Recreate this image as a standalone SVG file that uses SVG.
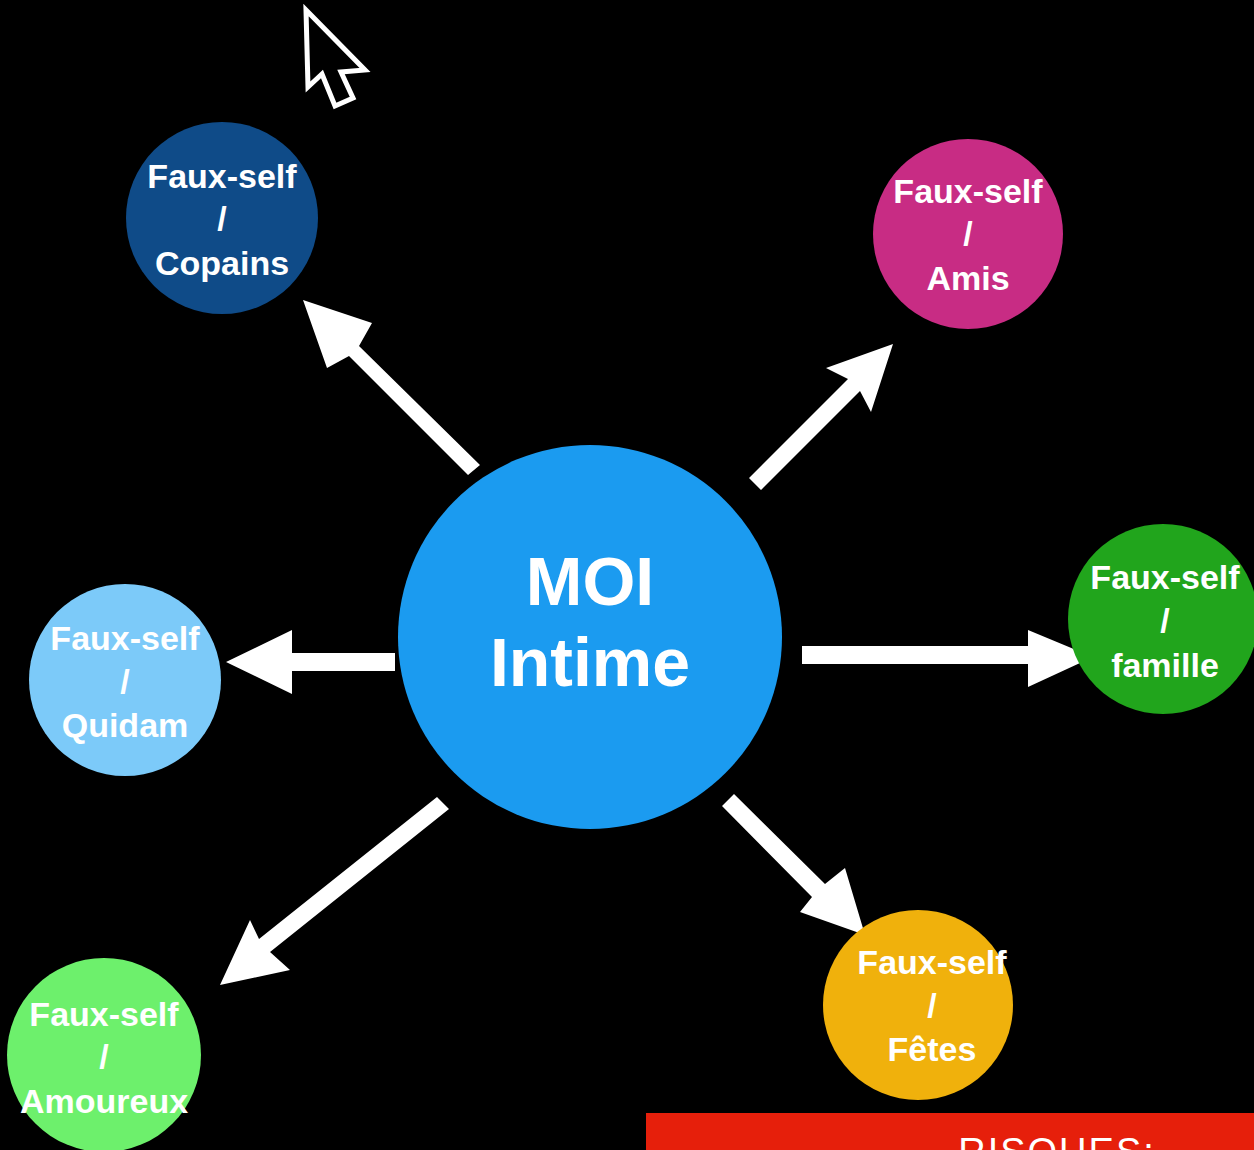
<svg xmlns="http://www.w3.org/2000/svg" width="1254" height="1150" viewBox="0 0 1254 1150">
<style>
.lbl{font-family:"Liberation Sans",Arial,sans-serif;font-weight:bold;font-size:34px;fill:#ffffff;text-anchor:middle}
.big{font-family:"Liberation Sans",Arial,sans-serif;font-weight:bold;font-size:68px;fill:#ffffff;text-anchor:middle}
.arrow{fill:#ffffff}
</style>
<rect x="0" y="0" width="1254" height="1150" fill="#000000"/>
<g id="cursor">
<polygon points="306,10 365,70 341,72 353,98 335,106 322,74 308,87" fill="#000000" stroke="#ffffff" stroke-width="5" stroke-linejoin="miter"/>
</g>
<g id="connectors">
<!-- Copains -->
<polygon class="arrow" points="480,465 468,475 349,356 327,368 303,300 372,323 359,346"/>
<!-- Amis -->
<polygon class="arrow" points="749,478 761,490 860,391 871,412 893,344 826,368 848,379"/>
<!-- famille -->
<polygon class="arrow" points="802,646 1028,646 1028,630 1093,657 1028,687 1028,664 802,664"/>
<!-- Quidam -->
<polygon class="arrow" points="395,653 292,653 292,630 226,662 292,694 292,671 395,671"/>
<!-- Amoureux -->
<polygon class="arrow" points="437,797 449,809 270,952 290,970 220,985 250,920 259,939"/>
<!-- Fêtes -->
<polygon class="arrow" points="734,794 722,806 812,897 800,912 865,935 845,868 825,884"/>
</g>
<g id="node-moi">
<circle cx="590" cy="637" r="192" fill="#1b9bf0"/>
<text class="big" x="590" y="605">MOI</text>
<text class="big" x="590" y="686">Intime</text>
</g>
<g id="node-copains">
<circle cx="222" cy="218" r="96" fill="#0f4b88"/>
<text class="lbl" x="222" y="188">Faux-self</text>
<text class="lbl" x="222" y="230">/</text>
<text class="lbl" x="222" y="275">Copains</text>
</g>
<g id="node-amis">
<circle cx="968" cy="234" r="95" fill="#c82c84"/>
<text class="lbl" x="968" y="203">Faux-self</text>
<text class="lbl" x="968" y="245">/</text>
<text class="lbl" x="968" y="290">Amis</text>
</g>
<g id="node-famille">
<circle cx="1163" cy="619" r="95" fill="#21a51c"/>
<text class="lbl" x="1165" y="589">Faux-self</text>
<text class="lbl" x="1165" y="632">/</text>
<text class="lbl" x="1165" y="677">famille</text>
</g>
<g id="node-quidam">
<circle cx="125" cy="680" r="96" fill="#7ccaf9"/>
<text class="lbl" x="125" y="650">Faux-self</text>
<text class="lbl" x="125" y="693">/</text>
<text class="lbl" x="125" y="737">Quidam</text>
</g>
<g id="node-amoureux">
<circle cx="104" cy="1055" r="97" fill="#6df06c"/>
<text class="lbl" x="104" y="1026">Faux-self</text>
<text class="lbl" x="104" y="1068">/</text>
<text class="lbl" x="104" y="1113">Amoureux</text>
</g>
<g id="node-fetes">
<circle cx="918" cy="1005" r="95" fill="#f0b10c"/>
<text class="lbl" x="932" y="974">Faux-self</text>
<text class="lbl" x="932" y="1017">/</text>
<text class="lbl" x="932" y="1061">Fêtes</text>
</g>
<g id="banner">
<rect x="646" y="1113" width="608" height="40" fill="#e61f0b"/>
<text x="1057" y="1165" font-family="Liberation Sans,Arial,sans-serif" font-size="38" fill="#ffffff" text-anchor="middle" letter-spacing="2">RISQUES:</text>
</g>
</svg>
